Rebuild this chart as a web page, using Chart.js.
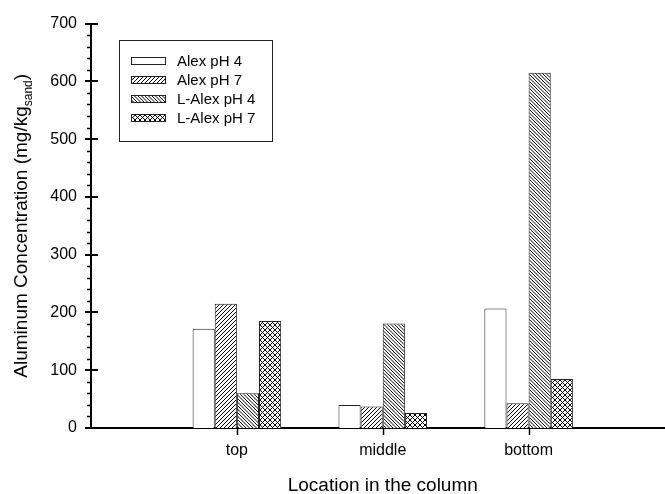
<!DOCTYPE html>
<html>
<head>
<meta charset="utf-8">
<script src="https://cdn.jsdelivr.net/npm/chart.js@4.4.1/dist/chart.umd.min.js"></script>
<style>
  html, body { margin: 0; padding: 0; background: #fff; overflow: hidden; width: 665px; height: 494px; }
  canvas { display: block; }
</style>
</head>
<body>
<canvas id="chart" width="680" height="494"></canvas>
<script>
// Sampling locations along the sand column
const categories = ['top', 'middle', 'bottom'];
const seriesNames = ['Alex pH 4', 'Alex pH 7', 'L-Alex pH 4', 'L-Alex pH 7'];

// Aluminum retained (mg/kg sand)
const alexPH4  = [172, 40, 207];
const alexPH7  = [215, 37, 43];
const lAlexPH4 = [60, 181, 615];
const lAlexPH7 = [185, 26, 85];

const yMajorTicks = [0, 100, 200, 300, 400, 500, 600, 700];

const FONT = "'Liberation Sans', Arial, sans-serif";

// Hatch fills built on small tiles
function makePattern(kind) {
  const size = kind === 'back' ? 7 : (kind === 'cross' ? 5 : 4);
  const c = document.createElement('canvas');
  c.width = size; c.height = size;
  const g = c.getContext('2d');
  g.fillStyle = '#fff';
  g.fillRect(0, 0, size, size);
  g.strokeStyle = '#000';
  g.lineWidth = 1;
  const step = kind === 'back' ? size / 2 : size;
  g.beginPath();
  if (kind === 'fwd' || kind === 'cross') {
    for (let o = -size; o <= size; o += step) { g.moveTo(o, size); g.lineTo(o + size, 0); }
  }
  if (kind === 'back' || kind === 'cross') {
    for (let o = -size; o <= size; o += step) { g.moveTo(o, 0); g.lineTo(o + size, size); }
  }
  g.stroke();
  return g.createPattern(c, 'repeat');
}

const fills = ['#ffffff', makePattern('fwd'), makePattern('back'), makePattern('cross')];
const seriesValues = [alexPH4, alexPH7, lAlexPH4, lAlexPH7];

const datasets = seriesValues.map((vals, i) => ({
  label: seriesNames[i],
  data: vals.map((v, j) => ({ x: j + 1, y: v })),
  backgroundColor: fills[i],
  borderColor: '#222',
  borderWidth: 1,
  borderSkipped: 'start',
  categoryPercentage: 0.607,
  barPercentage: 1.0
}));

// Tick marks, legend box and axis titles
const decorations = {
  id: 'decorations',
  afterDraw(chart) {
    const ctx = chart.ctx;
    const area = chart.chartArea;
    const xs = chart.scales.x, ys = chart.scales.y;
    const x0 = area.left;
    ctx.save();
    ctx.strokeStyle = '#000';

    // y minor ticks every 20
    ctx.lineWidth = 1.5;
    for (let v = 20; v < 700; v += 20) {
      if (v % 100 === 0) continue;
      const y = Math.round(ys.getPixelForValue(v)) + 0.5;
      ctx.beginPath(); ctx.moveTo(x0 - 4, y); ctx.lineTo(x0, y); ctx.stroke();
    }
    // y major ticks cross the axis
    ctx.lineWidth = 2;
    yMajorTicks.forEach(v => {
      const y = Math.round(ys.getPixelForValue(v));
      ctx.beginPath(); ctx.moveTo(x0 - 6, y); ctx.lineTo(x0 + 7, y); ctx.stroke();
    });
    // x category ticks
    ctx.lineWidth = 1.5;
    categories.forEach((c, i) => {
      const x = Math.round(xs.getPixelForValue(i + 1)) + 0.5;
      ctx.beginPath(); ctx.moveTo(x, area.bottom); ctx.lineTo(x, area.bottom + 7); ctx.stroke();
    });

    // legend
    ctx.lineWidth = 1;
    ctx.strokeStyle = '#222';
    ctx.strokeRect(119.5, 40.5, 153, 101);
    ctx.font = '15px ' + FONT;
    ctx.fillStyle = '#000';
    ctx.textBaseline = 'middle';
    ctx.textAlign = 'left';
    seriesNames.forEach((name, i) => {
      const cy = 61 + i * 19;
      ctx.fillStyle = fills[i];
      ctx.fillRect(131, cy - 4, 35, 8);
      ctx.strokeStyle = '#222';
      ctx.strokeRect(131.5, cy - 3.5, 34, 7);
      ctx.fillStyle = '#000';
      ctx.fillText(name, 177, cy + 0.5);
    });

    // x axis title
    ctx.font = '19px ' + FONT;
    ctx.textAlign = 'center';
    ctx.textBaseline = 'alphabetic';
    ctx.fillText('Location in the column', (area.left + area.right) / 2, 491);

    // y axis title with subscript
    const main = 'Aluminum Concentration (mg/kg';
    const sub = 'sand';
    const tail = ')';
    ctx.font = '19px ' + FONT;
    const wMain = ctx.measureText(main).width;
    const wTail = ctx.measureText(tail).width;
    ctx.font = '12px ' + FONT;
    const wSub = ctx.measureText(sub).width;
    const total = wMain + wSub + wTail;
    ctx.translate(27, (area.top + area.bottom) / 2);
    ctx.rotate(-Math.PI / 2);
    ctx.textAlign = 'left';
    let px = -total / 2;
    ctx.font = '19px ' + FONT;
    ctx.fillText(main, px, 0);
    px += wMain;
    ctx.font = '12px ' + FONT;
    ctx.fillText(sub, px, 5);
    px += wSub;
    ctx.font = '19px ' + FONT;
    ctx.fillText(tail, px, 0);
    ctx.restore();
  }
};

new Chart(document.getElementById('chart'), {
  type: 'bar',
  data: { datasets },
  options: {
    responsive: false,
    devicePixelRatio: 1,
    animation: false,
    layout: { padding: { top: 19, left: 0, right: 5.5, bottom: 0 } },
    plugins: { legend: { display: false }, tooltip: { enabled: false } },
    scales: {
      x: {
        type: 'linear',
        offset: false,
        min: 0,
        max: 4,
        afterBuildTicks: s => { s.ticks = categories.map((c, i) => ({ value: i + 1 })); },
        afterFit: s => { s.height = 66; },
        grid: { display: false, drawTicks: false, offset: false },
        border: { display: true, color: '#000', width: 2 },
        ticks: {
          callback: v => categories[v - 1] || '',
          color: '#000',
          font: { family: FONT, size: 16 },
          padding: 13,
          maxRotation: 0,
          autoSkip: false
        }
      },
      y: {
        min: 0,
        max: 700,
        afterBuildTicks: s => { s.ticks = yMajorTicks.map(v => ({ value: v })); },
        afterFit: s => { s.width = 91; },
        grid: { display: false, drawTicks: false },
        border: { display: true, color: '#000', width: 2 },
        ticks: {
          color: '#000',
          font: { family: FONT, size: 16 },
          padding: 14
        }
      }
    }
  },
  plugins: [decorations]
});
</script>
</body>
</html>
